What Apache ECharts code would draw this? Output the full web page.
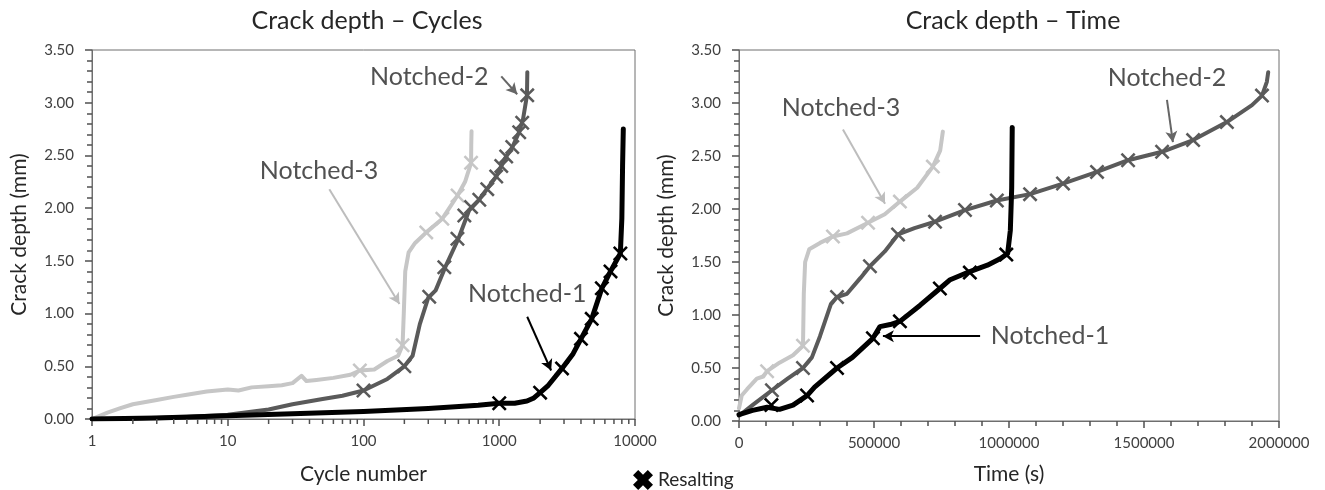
<!DOCTYPE html>
<html><head><meta charset="utf-8">
<script src="https://cdn.jsdelivr.net/npm/echarts@6/dist/echarts.min.js"></script>
<style>html,body{margin:0;padding:0;background:#fff}#c{width:1325px;height:490px}</style>
</head><body><div id="c"></div>
<script>
// ---------- DATA ----------
// Crack depth vs cycle number (log x)
const n1Cycles = [[1,0],[3,0.01],[10,0.03],[30,0.05],[100,0.07],[300,0.1],[700,0.13],[1000,0.15],[1300,0.15],[1600,0.17],[1800,0.2],[2000,0.25],[2300,0.32],[2900,0.48],[3500,0.62],[4000,0.76],[4800,0.95],[5700,1.24],[6600,1.40],[7800,1.57],[8000,1.9],[8100,2.4],[8200,2.75]];
const n1CyclesResalt = [[1000,0.15],[2000,0.25],[2900,0.48],[4000,0.76],[4800,0.95],[5700,1.24],[6600,1.40],[7800,1.57]];
const n2Cycles = [[1,0],[2,0.005],[5,0.02],[10,0.04],[20,0.09],[30,0.14],[50,0.19],[70,0.22],[100,0.27],[150,0.38],[200,0.5],[230,0.6],[260,0.9],[300,1.15],[340,1.22],[400,1.44],[500,1.71],[600,1.98],[700,2.07],[800,2.17],[950,2.3],[1100,2.47],[1250,2.58],[1400,2.72],[1500,2.85],[1600,3.07],[1610,3.29]];
const n2CyclesResalt = [[100,0.27],[200,0.5],[305,1.16],[394,1.44],[492,1.71],[553,1.93],[620,2.01],[713,2.08],[816,2.18],[950,2.3],[1035,2.4],[1125,2.49],[1247,2.58],[1403,2.72],[1476,2.81],[1607,3.07]];
const n3Cycles = [[1,0],[1.3,0.06],[1.6,0.1],[2,0.14],[3,0.18],[4,0.21],[5,0.23],[7,0.26],[10,0.28],[12,0.27],[15,0.3],[20,0.31],[25,0.32],[30,0.34],[35,0.41],[38,0.36],[45,0.37],[60,0.39],[80,0.42],[94,0.46],[120,0.47],[150,0.55],[180,0.6],[194,0.7],[198,1.0],[203,1.4],[215,1.58],[240,1.67],[290,1.77],[381,1.9],[493,2.12],[560,2.25],[620,2.43],[622,2.6],[625,2.73]];
const n3CyclesResalt = [[94,0.46],[194,0.7],[290,1.77],[381,1.9],[493,2.12],[620,2.43]];

// Crack depth vs time (s)
const n1Time = [[0,0.06],[50000,0.1],[104000,0.13],[150000,0.11],[200000,0.15],[252000,0.24],[280000,0.32],[363000,0.50],[420000,0.6],[496000,0.78],[522000,0.89],[560000,0.91],[596000,0.94],[670000,1.09],[744000,1.25],[780000,1.33],[855000,1.41],[920000,1.47],[967000,1.53],[995000,1.58],[1005000,1.8],[1010000,2.2],[1012000,2.77]];
const n1TimeResalt = [[120000,0.15],[252000,0.24],[363000,0.50],[496000,0.78],[596000,0.94],[744000,1.25],[855000,1.40],[990000,1.57]];
const n2Time = [[0,0.05],[50000,0.15],[122000,0.29],[180000,0.4],[237000,0.50],[270000,0.6],[300000,0.8],[340000,1.1],[363000,1.17],[400000,1.2],[450000,1.35],[485000,1.46],[540000,1.6],[589000,1.76],[650000,1.82],[726000,1.88],[837000,1.99],[955000,2.08],[1078000,2.14],[1200000,2.24],[1326000,2.35],[1441000,2.46],[1567000,2.54],[1682000,2.65],[1807000,2.82],[1900000,2.98],[1937000,3.07],[1955000,3.2],[1960000,3.29]];
const n2TimeResalt = [[122000,0.29],[237000,0.50],[363000,1.17],[485000,1.46],[589000,1.76],[726000,1.88],[837000,1.99],[955000,2.08],[1078000,2.14],[1200000,2.24],[1326000,2.35],[1441000,2.46],[1567000,2.54],[1682000,2.65],[1807000,2.82],[1937000,3.07]];
const n3Time = [[0,0.12],[10000,0.24],[30000,0.3],[66000,0.40],[90000,0.42],[104000,0.47],[150000,0.55],[200000,0.62],[237000,0.71],[240000,1.2],[245000,1.5],[260000,1.62],[300000,1.68],[348000,1.74],[400000,1.77],[478000,1.87],[540000,1.95],[596000,2.07],[660000,2.2],[718000,2.40],[745000,2.55],[755000,2.73]];
const n3TimeResalt = [[104000,0.47],[237000,0.71],[348000,1.74],[478000,1.87],[596000,2.07],[718000,2.40]];

const logMinorTicks = [2,3,4,5,6,7,8,9,20,30,40,50,60,70,80,90,200,300,400,500,600,700,800,900,2000,3000,4000,5000,6000,7000,8000,9000];

// annotations: [labelX, labelY, text, arrowFromX, arrowFromY, arrowToX, arrowToY]
const annCycles = [
  [47, 2.35, 'Notched-3', 56, 2.18, 184, 1.09],
  [305, 3.24, 'Notched-2', 1035, 3.25, 1356, 3.08],
  [1607, 1.19, 'Notched-1', 1607, 0.97, 2410, 0.46]
];
const annTime = [
  [378000, 2.95, 'Notched-3', 385000, 2.75, 541000, 2.05],
  [1585000, 3.24, 'Notched-2', 1585000, 3.03, 1607000, 2.63],
  [1152000, 0.80, 'Notched-1', 893000, 0.80, 533000, 0.80]
];

// ---------- STYLE ----------
const FONT = 'Lato';
const C1 = '#000000', C2 = '#5a5a5a', C3 = '#c6c6c6';
const ARROWC = ['#bdbdbd', '#666666', '#000000'];
const AXC = '#6e6e6e';
const TICKC = '#505050';
const TXT = '#262626';
const TICKTXT = '#404040';
const XMARK = 'path://M0,1.2L1.2,0L5,3.8L8.8,0L10,1.2L6.2,5L10,8.8L8.8,10L5,6.2L1.2,10L0,8.8L3.8,5Z';
const XBOLD = 'path://M0,2.6L2.6,0L5,2.4L7.4,0L10,2.6L7.6,5L10,7.4L7.4,10L5,7.6L2.6,10L0,7.4L2.4,5Z';

const chart = echarts.init(document.getElementById('c'), null, {renderer:'canvas'});

function yAxis(gi){
  return {
    gridIndex: gi, type:'value', min:0, max:3.5, interval:0.5,
    name:'Crack depth (mm)', nameLocation:'middle', nameGap: 62,
    nameTextStyle:{fontFamily:FONT, fontSize:21, color:TXT},
    axisLine:{show:true, lineStyle:{color:AXC, width:1}},
    axisTick:{show:true, inside:false, length:7, lineStyle:{color:TICKC, width:1.5}},
    minorTick:{show:true, splitNumber:5, length:5, lineStyle:{color:TICKC, width:1.5}},
    splitLine:{show:false}, minorSplitLine:{show:false},
    axisLabel:{fontFamily:FONT, fontSize:15, color:TICKTXT, margin:18, formatter:v=>v.toFixed(2)}
  };
}
function lineS(name, data, color, w, xi, z){
  return {type:'line', name, xAxisIndex:xi, yAxisIndex:xi, data, showSymbol:false, symbol:'none',
    lineStyle:{color, width:w, join:'round', cap:'round'}, itemStyle:{color}, z, silent:true, animation:false};
}
function markS(name, data, color, xi){
  return {type:'scatter', name, xAxisIndex:xi, yAxisIndex:xi, data, symbol:XMARK, symbolSize:15,
    itemStyle:{color, opacity:1}, z:10, silent:true, animation:false};
}
function annS(ann, xi){
  const out = [];
  ann.forEach((a,i)=>{
    out.push({type:'line', xAxisIndex:xi, yAxisIndex:xi, data:[], silent:true, animation:false, z:20,
      markLine:{silent:true, animation:false, symbol:['none','arrow'], symbolSize:[9,11],
        lineStyle:{color:ARROWC[i], width:2, type:'solid'}, label:{show:false},
        data:[[{coord:[a[3],a[4]]},{coord:[a[5],a[6]]}]]}});
  });
  out.push({type:'scatter', xAxisIndex:xi, yAxisIndex:xi, symbolSize:0, silent:true, animation:false, z:20,
    data: ann.map(a=>[a[0],a[1],a[2]]),
    label:{show:true, position:'inside', formatter:p=>p.data[2], fontFamily:FONT, fontSize:25, color:TXT}});
  return out;
}

const option = {
  backgroundColor:'#fff',
  animation:false,
  title:[
    {text:'Crack depth – Cycles', left:362, top:3, textAlign:'center', textStyle:{fontFamily:FONT, fontSize:25, fontWeight:'normal', color:TXT}},
    {text:'Crack depth – Time', left:1008, top:3, textAlign:'center', textStyle:{fontFamily:FONT, fontSize:25, fontWeight:'normal', color:TXT}}
  ],
  legend:{left:628, top:465, selectedMode:false, itemWidth:20, itemHeight:20, itemGap:10,
    textStyle:{fontFamily:FONT, fontSize:19, color:TXT},
    data:[{name:'Resalting', icon:XBOLD, itemStyle:{color:'#000'}}]},
  grid:[
    {left:92, top:50, width:543, height:371, show:true, borderColor:AXC, borderWidth:1, backgroundColor:'transparent'},
    {left:739, top:50, width:540, height:373, show:true, borderColor:AXC, borderWidth:1, backgroundColor:'transparent'}
  ],
  xAxis:[
    {gridIndex:0, type:'log', logBase:10, min:1, max:10000,
      name:'Cycle number', nameLocation:'middle', nameGap:45,
      nameTextStyle:{fontFamily:FONT, fontSize:21, color:TXT},
      axisLine:{show:true, onZero:false, lineStyle:{color:AXC}},
      axisTick:{show:true, inside:false, length:7, lineStyle:{color:TICKC, width:1.5}},
      minorTick:{show:false}, splitLine:{show:false},
      axisLabel:{fontFamily:FONT, fontSize:15, color:TICKTXT, margin:15, formatter:v=>String(Math.round(v))}},
    {gridIndex:1, type:'value', min:0, max:2000000, interval:500000,
      name:'Time (s)', nameLocation:'middle', nameGap:43,
      nameTextStyle:{fontFamily:FONT, fontSize:21, color:TXT},
      axisLine:{show:true, onZero:false, lineStyle:{color:AXC}},
      axisTick:{show:true, inside:false, length:7, lineStyle:{color:TICKC, width:1.5}},
      minorTick:{show:true, splitNumber:5, length:5, lineStyle:{color:TICKC, width:1.5}},
      splitLine:{show:false},
      axisLabel:{fontFamily:FONT, fontSize:15, color:TICKTXT, margin:15, formatter:v=>String(v)}}
  ],
  yAxis:[yAxis(0), yAxis(1)],
  series:[
    {type:'custom', xAxisIndex:0, yAxisIndex:0, silent:true, animation:false, clip:false, z:30,
      encode:{x:0, y:1},
      data: logMinorTicks.map(v=>[v,0]),
      renderItem:(params, api)=>{
        const p = api.coord([api.value(0), 0]);
        return {type:'line', shape:{x1:p[0], y1:p[1], x2:p[0], y2:p[1]+5}, style:{stroke:TICKC, lineWidth:1.5}};
      }},
    lineS('Notched-3', n3Cycles, C3, 4, 0, 3),
    lineS('Notched-2', n2Cycles, C2, 4, 0, 4),
    lineS('Notched-1', n1Cycles, C1, 5, 0, 5),
    markS('Resalting N3', n3CyclesResalt, C3, 0),
    markS('Resalting N2', n2CyclesResalt, C2, 0),
    markS('Resalting', n1CyclesResalt, C1, 0),
    lineS('Notched-3 t', n3Time, C3, 4, 1, 3),
    lineS('Notched-2 t', n2Time, C2, 4, 1, 4),
    lineS('Notched-1 t', n1Time, C1, 5, 1, 5),
    markS('Resalting N3 t', n3TimeResalt, C3, 1),
    markS('Resalting N2 t', n2TimeResalt, C2, 1),
    markS('Resalting N1 t', n1TimeResalt, C1, 1)
  ].concat(annS(annCycles,0), annS(annTime,1))
};
chart.setOption(option);
</script>
</body></html>
